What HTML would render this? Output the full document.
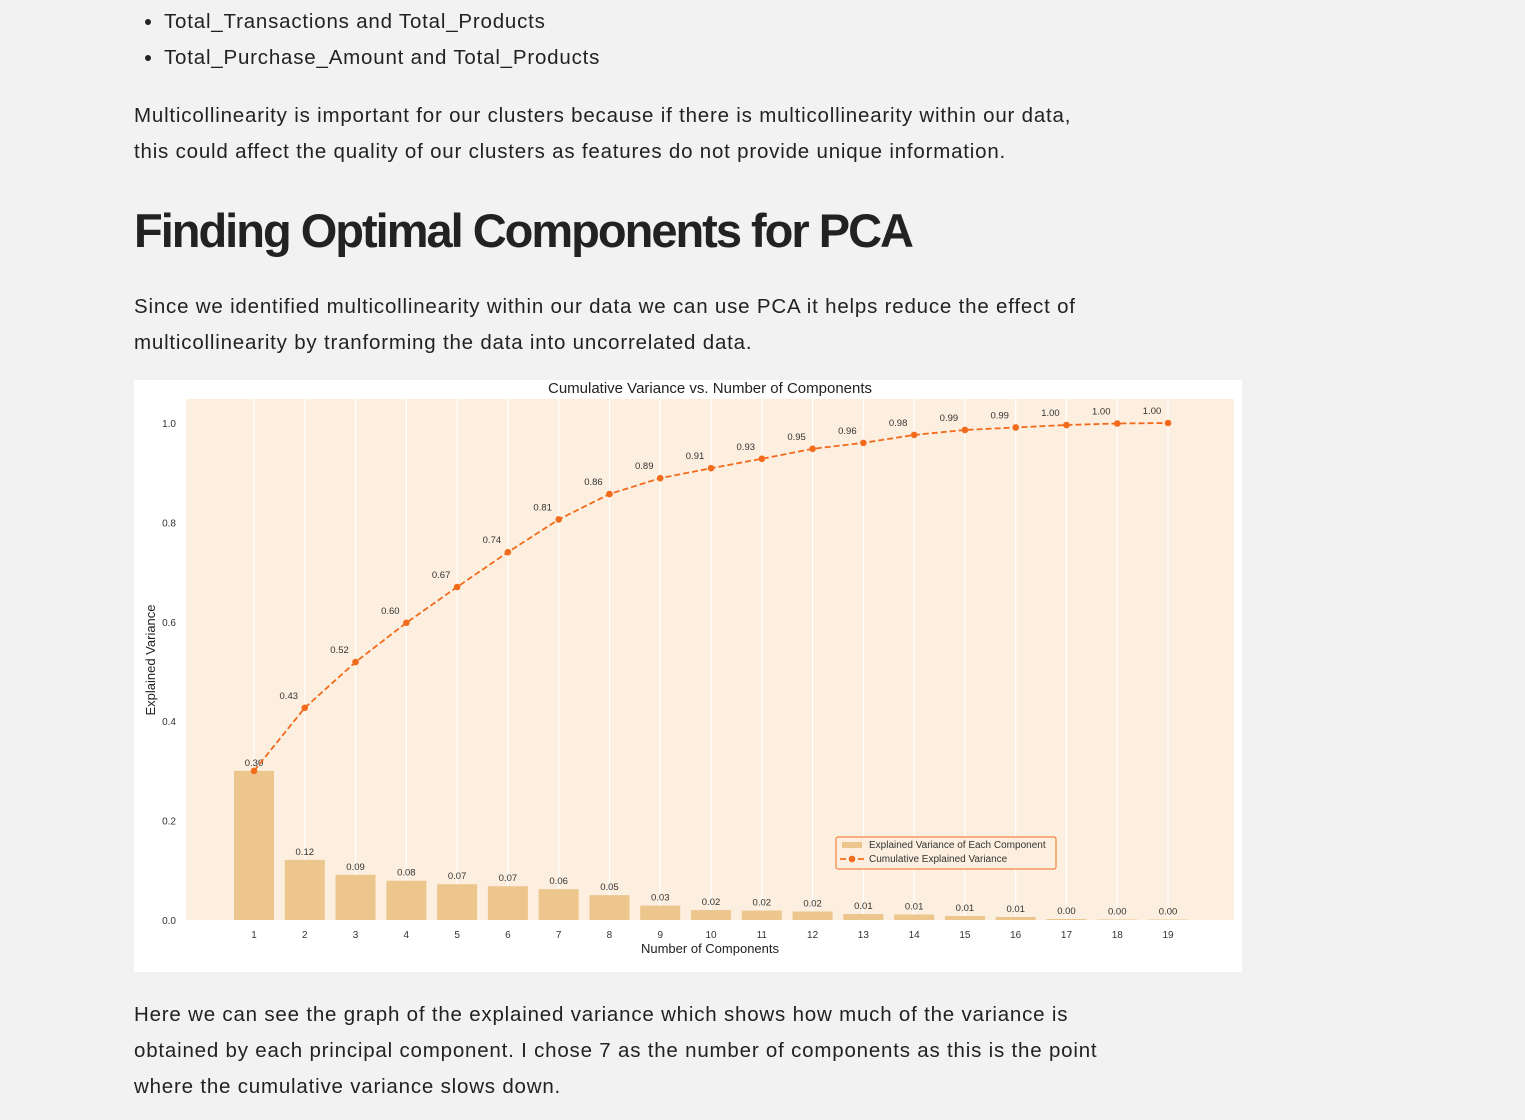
<!DOCTYPE html>
<html><head><meta charset="utf-8"><style>
body{margin:0;background:#f2f2f2;width:1525px;height:1120px;overflow:hidden;font-family:"Liberation Sans",sans-serif;color:#222;position:relative}
.t{position:absolute;left:134px;font-size:20.5px;line-height:36px;white-space:nowrap;letter-spacing:0.8px}
h1{position:absolute;left:134px;top:203px;margin:0;font-size:47px;font-weight:bold;letter-spacing:-2px;color:#222}
ul{position:absolute;left:140px;top:4px;margin:0;padding-left:24px;font-size:20.5px;line-height:36px;letter-spacing:0.8px}
#chart{position:absolute;left:134px;top:380px}
</style></head><body>
<ul><li>Total_Transactions and Total_Products</li><li>Total_Purchase_Amount and Total_Products</li></ul>
<div class="t" style="top:98px">Multicollinearity is important for our clusters because if there is multicollinearity within our data,<br>this could affect the quality of our clusters as features do not provide unique information.</div>
<h1>Finding Optimal Components for PCA</h1>
<div class="t" style="top:289px">Since we identified multicollinearity within our data we can use PCA it helps reduce the effect of<br>multicollinearity by tranforming the data into uncorrelated data.</div>
<svg id="chart" width="1108" height="592"></svg>
<div class="t" style="top:997px">Here we can see the graph of the explained variance which shows how much of the variance is<br>obtained by each principal component. I chose 7 as the number of components as this is the point<br>where the cumulative variance slows down.</div>
<script>
const components=[1,2,3,4,5,6,7,8,9,10,11,12,13,14,15,16,17,18,19];
const explained=[0.300,0.121,0.091,0.079,0.072,0.068,0.062,0.050,0.029,0.020,0.019,0.017,0.012,0.011,0.008,0.006,0.002,0.001,0.001];
const cumulative=[0.300,0.427,0.519,0.598,0.670,0.740,0.806,0.857,0.889,0.909,0.928,0.948,0.960,0.976,0.986,0.991,0.996,0.999,1.000];
const yTicks=[0.0,0.2,0.4,0.6,0.8,1.0];
const NS='http://www.w3.org/2000/svg';
const svg=document.getElementById('chart');
const PL=52,PR=1100,PT=19,PB=540;
const x=c=>120+(c-1)*50.78;
const y=v=>PB-v*497;
function mk(t,a,p){const e=document.createElementNS(NS,t);for(const k in a)e.setAttribute(k,a[k]);(p||svg).appendChild(e);return e;}
let e;
e=mk('rect',{x:0,y:0,width:1108,height:592,fill:'#fff'});


e=mk('rect',{x:PL,y:PT,width:PR-PL,height:PB-PT,fill:'#fcefdf'});


components.forEach(c=>{
 e=mk('line',{x1:x(c),x2:x(c),y1:PT,y2:PB,stroke:'#fff','stroke-width':1.2});
 
 
 e=mk('text',{x:x(c),y:PB+18,'font-size':10,'text-anchor':'middle',fill:'#333'});e.textContent=c;
 
 
});
yTicks.forEach(v=>{
 e=mk('text',{x:42,y:y(v)+4,'font-size':10,'text-anchor':'end',fill:'#333'});e.textContent=v.toFixed(1);
 
 
});
components.forEach((c,i)=>{
 const v=explained[i];
 e=mk('rect',{x:x(c)-20,y:y(v),width:40,height:PB-y(v),fill:'#ecc68d'});
 
 
 e=mk('text',{x:x(c),y:y(v)-5,'font-size':9.5,'text-anchor':'middle',fill:'#333'});e.textContent=v.toFixed(2);
 
 
});
e=mk('polyline',{points:components.map((c,i)=>x(c)+','+y(cumulative[i])).join(' '),fill:'none',stroke:'#f26b1d','stroke-width':1.8,'stroke-dasharray':'6,3'});


components.forEach((c,i)=>{
 e=mk('circle',{cx:x(c),cy:y(cumulative[i]),r:3.3,fill:'#f26b1d'});
 
 
 if(i===0)return;
 e=mk('text',{x:x(c)-16,y:y(cumulative[i])-9,'font-size':9.5,'text-anchor':'middle',fill:'#333'});e.textContent=cumulative[i].toFixed(2);
 
 
});
e=mk('text',{x:576,y:13,'font-size':15,'text-anchor':'middle',fill:'#222'});e.textContent='Cumulative Variance vs. Number of Components';


e=mk('text',{x:576,y:573,'font-size':13,'text-anchor':'middle',fill:'#222'});e.textContent='Number of Components';


e=mk('text',{x:0,y:0,'font-size':13,'text-anchor':'middle',fill:'#222',transform:'translate(21,280) rotate(-90)'});e.textContent='Explained Variance';


const g=mk('g',{});


mk('rect',{x:702,y:457,width:220,height:32,rx:2,fill:'#fcefdf',stroke:'#f26b1d','stroke-width':1},g);
mk('rect',{x:708,y:462,width:20,height:6,fill:'#ecc68d'},g);
mk('text',{x:735,y:468,'font-size':10,fill:'#333'},g).textContent='Explained Variance of Each Component';
mk('line',{x1:706,x2:730,y1:479,y2:479,stroke:'#f26b1d','stroke-width':1.8,'stroke-dasharray':'6,3'},g);
mk('circle',{cx:718,cy:479,r:3.3,fill:'#f26b1d'},g);
mk('text',{x:735,y:482,'font-size':10,fill:'#333'},g).textContent='Cumulative Explained Variance';
</script>
</body></html>
